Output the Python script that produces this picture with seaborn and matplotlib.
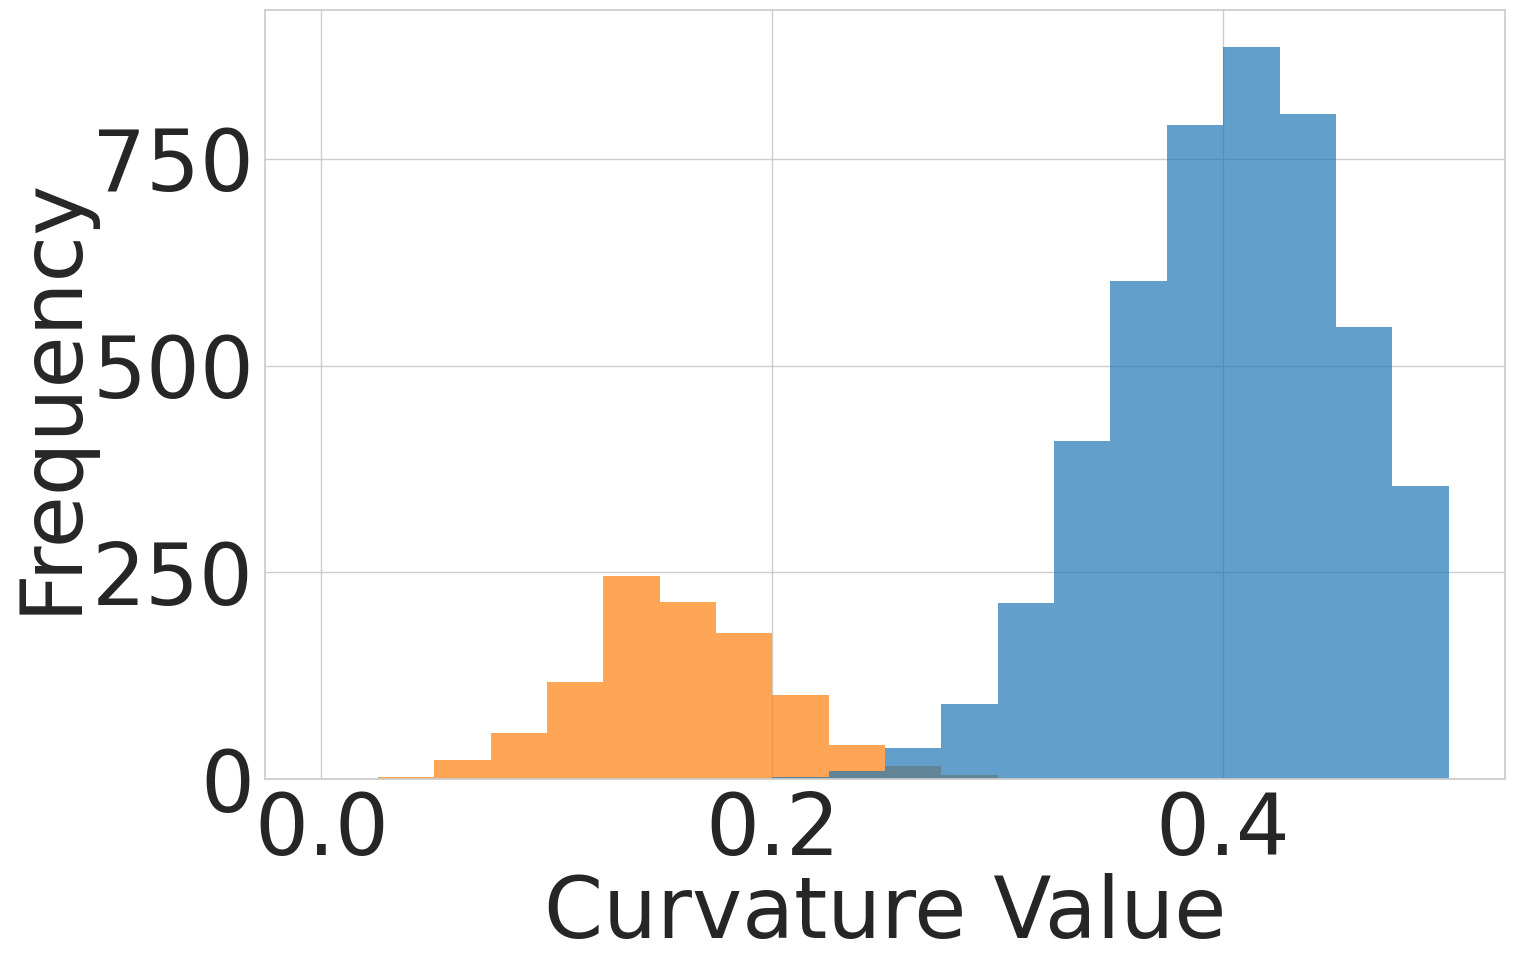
import numpy as np
import matplotlib.pyplot as plt
import pandas as pd
import seaborn as sns

# bin edges (width 0.025) and counts
edges = [round(0.025 * i, 3) for i in range(21)]
blue_counts = [0, 0, 0, 0, 0, 0, 0, 0, 2, 10, 37, 91, 213, 409, 602, 791, 885, 804, 547, 354]
orange_counts = [0, 2, 23, 56, 117, 246, 214, 177, 102, 41, 16, 5, 0, 0, 0, 0, 0, 0, 0, 0]
centers = [(a + b) / 2 for a, b in zip(edges[:-1], edges[1:])]

df = pd.DataFrame({"Curvature": centers + centers,
                   "count": blue_counts + orange_counts,
                   "group": ["blue"] * 20 + ["orange"] * 20})

sns.set_theme(style="whitegrid")
fig, ax = plt.subplots(figsize=(15.15, 9.67), dpi=100)
fig.subplots_adjust(left=0.175, right=0.9934, top=0.9897, bottom=0.1944)

sns.histplot(data=df[df.group == "orange"], x="Curvature", weights="count", bins=edges,
             color="tab:orange", alpha=0.7, linewidth=0, ax=ax)
sns.histplot(data=df[df.group == "blue"], x="Curvature", weights="count", bins=edges,
             color="tab:blue", alpha=0.7, linewidth=0, ax=ax)

ax.set_xlim(-0.025, 0.525)
ax.set_ylim(0, 930)
ax.set_xticks([0.0, 0.2, 0.4])
ax.set_yticks([0, 250, 500, 750])
ax.tick_params(labelsize=61, pad=2)
ax.set_xlabel("Curvature Value", fontsize=61, labelpad=0)
ax.set_ylabel("Frequency", fontsize=61, labelpad=0)

plt.savefig("out.png")
